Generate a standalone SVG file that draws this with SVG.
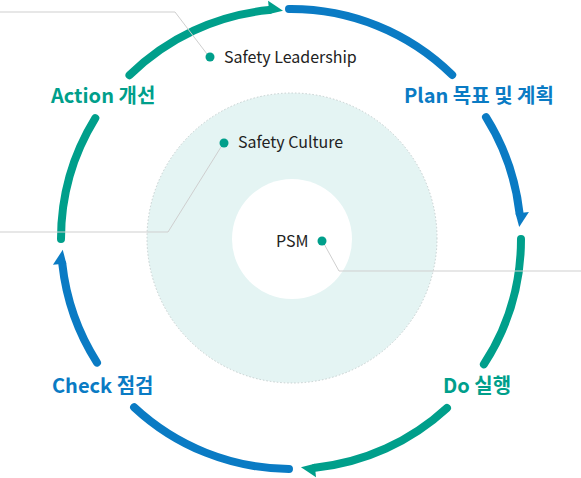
<svg xmlns="http://www.w3.org/2000/svg" xmlns:xlink="http://www.w3.org/1999/xlink" width="581" height="478" viewBox="0 0 581 478">
<style>
.arc{fill:none;stroke-width:8;stroke-linecap:round}
.g{stroke:#009f8b}
.b{stroke:#0a7bc4}
.gf{fill:#009f8b}
.bf{fill:#0a7bc4}
.lead{fill:none;stroke:#cfcfcf;stroke-width:1}
.dot{fill:#009f8b}
.t{font-family:"Noto Sans CJK KR","Noto Sans",sans-serif;font-size:16px;fill:#222}
.lbl{font-family:"Noto Sans CJK KR","Noto Sans",sans-serif;font-size:20px;font-weight:700}
</style>
<defs>
<polygon id="ah" points="519.5,239 530.0,224.4 516.6,225.2"/>
</defs>
<g id="layer-circles">
<circle cx="292" cy="238" r="145" fill="#e4f4f3" stroke="#c5cfcf" stroke-width="1" stroke-dasharray="1.5 2"/>
<circle cx="292" cy="239" r="60" fill="#ffffff"/>
</g>
<g id="connectors">
<path class="arc b" d="M289.0,9.0 A230,230 0 0 1 452.2,74.9"/>
<path class="arc b" d="M486.0,117.1 A230,230 0 0 1 519.5,213.0"/>
<use xlink:href="#ah" class="bf" transform="rotate(-3 291 239)"/>
<path class="arc g" d="M521,239 A230,230 0 0 1 483.9,364.3"/>
<path class="arc g" d="M447.0,408.0 A230,230 0 0 1 315.0,467.7"/>
<use xlink:href="#ah" class="gf" transform="rotate(87.5 291 239)"/>
<path class="arc b" d="M289.0,469.0 A230,230 0 0 1 134.1,407.2"/>
<path class="arc b" d="M97.0,362.6 A230,230 0 0 1 62.3,263.8"/>
<use xlink:href="#ah" class="bf" transform="rotate(177.3 291 239)"/>
<path class="arc g" d="M61,239 A230,230 0 0 1 95.3,118.1"/>
<path class="arc g" d="M129.5,75.2 A230,230 0 0 1 269.0,10.1"/>
<use xlink:href="#ah" class="gf" transform="rotate(268 291 239)"/>
<polyline class="lead" points="0,12 175,12 207,54"/>
<polyline class="lead" points="0,232 168,232 221,147"/>
<polyline class="lead" points="323,242 339,271 581,271"/>
</g>
<g id="node-leadership">
<circle class="dot" cx="210" cy="57" r="4.5"/>
<text class="t" x="224" y="63">Safety Leadership</text>
</g>
<g id="node-culture">
<circle class="dot" cx="224" cy="143" r="4.5"/>
<text class="t" x="238" y="148">Safety Culture</text>
</g>
<g id="node-psm">
<circle class="dot" cx="322" cy="241" r="4.5"/>
<text class="t" x="276" y="247">PSM</text>
</g>
<g id="node-action"><text class="lbl gf" x="51" y="103">Action 개선</text></g>
<g id="node-plan"><text class="lbl bf" x="404" y="103">Plan 목표 및 계획</text></g>
<g id="node-do"><text class="lbl gf" x="443" y="393">Do 실행</text></g>
<g id="node-check"><text class="lbl bf" x="52" y="393">Check 점검</text></g>
</svg>
